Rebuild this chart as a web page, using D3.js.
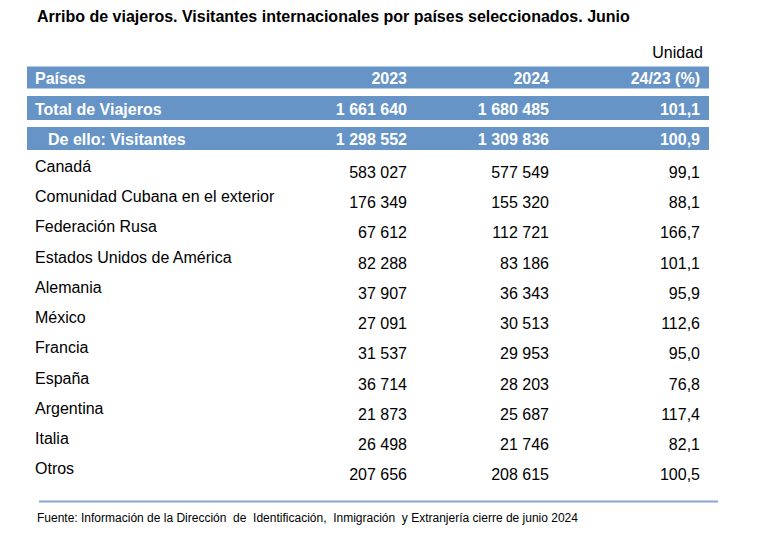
<!DOCTYPE html>
<html>
<head>
<meta charset="utf-8">
<script src="https://cdn.jsdelivr.net/npm/d3@7"></script>
<style>
  html, body { margin: 0; padding: 0; background: #fff; }
  svg text { font-family: "Liberation Sans", Arial, sans-serif; white-space: pre; }
</style>
</head>
<body>
<svg id="chart" width="759" height="539"></svg>
<script>
// ---- Data ----
const title = "Arribo de viajeros. Visitantes internacionales por países seleccionados. Junio";
const unitLabel = "Unidad";
const headers = ["Países", "2023", "2024", "24/23 (%)"];
const totalLabel = "Total de Viajeros";
const totalValues = [1661640, 1680485, 101.1];
const visitLabel = "De ello: Visitantes";
const visitValues = [1298552, 1309836, 100.9];
const countries = ["Canadá", "Comunidad Cubana en el exterior", "Federación Rusa",
  "Estados Unidos de América", "Alemania", "México", "Francia", "España",
  "Argentina", "Italia", "Otros"];
const values2023 = [583027, 176349, 67612, 82288, 37907, 27091, 31537, 36714, 21873, 26498, 207656];
const values2024 = [577549, 155320, 112721, 83186, 36343, 30513, 29953, 28203, 25687, 21746, 208615];
const ratio = [99.1, 88.1, 166.7, 101.1, 95.9, 112.6, 95.0, 76.8, 117.4, 82.1, 100.5];
const footnote = "Fuente: Información de la Dirección  de  Identificación,  Inmigración  y Extranjería cierre de junio 2024";

// ---- Setup ----
const svg = d3.select("#chart");
const locale = d3.formatLocale({decimal: ",", thousands: " ", grouping: [3], currency: ["", ""]});
const fmtInt = locale.format(",d");
const fmtPct = locale.format(",.1f");
const blue = "#6694c6";

const colX = [35, 407, 549, 700]; // label left, then right edges
const barX0 = 27, barX1 = 709;

// Title
svg.append("text").attr("x", 37).attr("y", 22)
  .attr("font-size", 16).attr("font-weight", "bold").attr("fill", "#000")
  .text(title);

svg.append("text").attr("x", 703).attr("y", 58).attr("text-anchor", "end")
  .attr("font-size", 16).attr("fill", "#000").text(unitLabel);

// Header bars
const bars = [
  {y0: 66.5, y1: 88.5, base: 84, cells: headers, indent: 0},
  {y0: 96, y1: 120, base: 114.5, cells: [totalLabel, fmtInt(totalValues[0]), fmtInt(totalValues[1]), fmtPct(totalValues[2])], indent: 0},
  {y0: 127, y1: 150, base: 145, cells: [visitLabel, fmtInt(visitValues[0]), fmtInt(visitValues[1]), fmtPct(visitValues[2])], indent: 13}
];
bars.forEach(b => {
  svg.append("rect").attr("x", barX0).attr("y", b.y0)
    .attr("width", barX1 - barX0).attr("height", b.y1 - b.y0).attr("fill", blue);
  b.cells.forEach((c, i) => {
    svg.append("text")
      .attr("x", i === 0 ? colX[0] + b.indent : colX[i])
      .attr("y", b.base)
      .attr("text-anchor", i === 0 ? "start" : "end")
      .attr("font-size", 16).attr("font-weight", "bold").attr("fill", "#fff")
      .text(c);
  });
});

// Data rows
const y = d3.scaleBand().domain(countries).range([150.5, 483]).paddingInner(0);
const rows = svg.append("g").selectAll("g").data(countries).join("g")
  .attr("transform", d => `translate(0,${y(d)})`);
rows.append("text").attr("x", colX[0]).attr("y", 21.5)
  .attr("font-size", 16).attr("fill", "#000").text(d => d);
rows.append("text").attr("x", colX[1]).attr("y", 27.5).attr("text-anchor", "end")
  .attr("font-size", 16).attr("fill", "#000").text((d, i) => fmtInt(values2023[i]));
rows.append("text").attr("x", colX[2]).attr("y", 27.5).attr("text-anchor", "end")
  .attr("font-size", 16).attr("fill", "#000").text((d, i) => fmtInt(values2024[i]));
rows.append("text").attr("x", colX[3]).attr("y", 27.5).attr("text-anchor", "end")
  .attr("font-size", 16).attr("fill", "#000").text((d, i) => fmtPct(ratio[i]));

// Bottom rule
svg.append("line").attr("x1", 39).attr("x2", 718).attr("y1", 501.5).attr("y2", 501.5)
  .attr("stroke", "#86a8d2").attr("stroke-width", 2);

// Footnote
svg.append("text").attr("x", 37).attr("y", 522)
  .attr("font-size", 12).attr("fill", "#000").text(footnote);
</script>
</body>
</html>
